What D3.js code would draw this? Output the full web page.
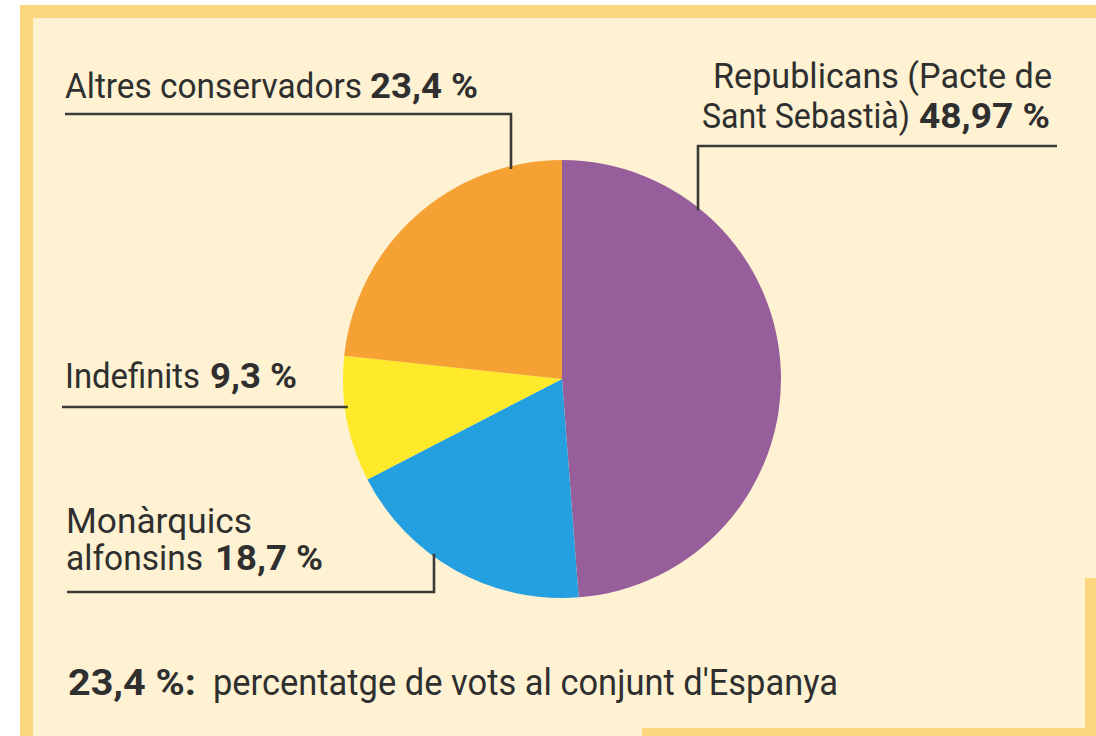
<!DOCTYPE html>
<html>
<head>
<meta charset="utf-8">
<script src="https://cdn.jsdelivr.net/npm/d3@7"></script>
<style>
  html, body { margin: 0; padding: 0; background: #fff; }
  svg { display: block; }
  text { font-family: Roboto, "Open Sans", sans-serif; fill: #2f2f2f; }
</style>
</head>
<body>
<div id="chart"></div>
<script>
// data
var parties = ["Republicans (Pacte de Sant Sebastià)", "Monàrquics alfonsins", "Indefinits", "Altres conservadors"];
var shares = [48.97, 18.7, 9.3, 23.4];
var colors = ["#965f9b", "#249fe0", "#fee92a", "#f5a134"];
var footnoteValue = 23.4;
var footnoteText = "percentatge de vots al conjunt d'Espanya";

var W = 1096, H = 736;
var cx = 562, cy = 379, R = 219;

var loc = d3.formatLocale({decimal: ",", thousands: ".", grouping: [3], currency: ["", ""]});
function pct(v) {
    var s = String(v).replace(".", ",");
    return s + " %";
}

var svg = d3.select("#chart").append("svg")
    .attr("width", W)
    .attr("height", H);

// frame
svg.append("rect").attr("x", 20).attr("y", 5).attr("width", W - 20).attr("height", H - 5).attr("fill", "#fdd77f");
svg.append("rect").attr("x", 33).attr("y", 18).attr("width", W - 33).attr("height", H - 18).attr("fill", "#fef2d3");
// bottom right corner stripes
svg.append("rect").attr("x", 1085).attr("y", 578).attr("width", 11).attr("height", H - 578).attr("fill", "#fdd77f");
svg.append("rect").attr("x", 642).attr("y", 728).attr("width", W - 642).attr("height", 8).attr("fill", "#fdd77f");

// pie
var pie = d3.pie().sort(null).value(function(d) { return d; });
var arc = d3.arc().innerRadius(0).outerRadius(R);
var g = svg.append("g").attr("transform", "translate(" + cx + "," + cy + ")");
g.selectAll("path")
    .data(pie(shares))
    .enter().append("path")
    .attr("d", arc)
    .attr("fill", function(d, i) { return colors[i]; });

// leader lines: edge point on the circle for a given x
function edgeY(x, top) {
    var dx = x - cx;
    var dy = Math.sqrt(R * R - dx * dx);
    return top ? cy - dy + 3 : cy + dy - 3;
}
function edgeX(y) {
    var dy = y - cy;
    return cx - Math.sqrt(R * R - dy * dy) + 3;
}
var line = d3.line();
var leaders = [
    [[65, 114], [511, 114], [511, edgeY(511, true)]],
    [[1057, 146], [698, 146], [698, edgeY(698, true)]],
    [[62, 407], [edgeX(407), 407]],
    [[67, 592], [434, 592], [434, edgeY(434, false)]]
];
svg.selectAll(".leader")
    .data(leaders)
    .enter().append("path")
    .attr("class", "leader")
    .attr("d", line)
    .attr("fill", "none")
    .attr("stroke", "#3a3a36")
    .attr("stroke-width", 2.6);

// labels: [text, x, baseline, width, bold]
function piece(t, x, y, w, bold, size) {
    svg.append("text")
        .attr("x", x)
        .attr("y", y)
        .attr("textLength", w)
        .attr("lengthAdjust", "spacingAndGlyphs")
        .style("font-size", (size || 35) + "px")
        .style("font-weight", bold ? 700 : 400)
        .text(t);
}

piece(parties[3], 65, 98, 297, false);
piece(pct(shares[3]), 370, 98, 108, true);

piece("Republicans (Pacte de", 713, 88, 339, false);
piece("Sant Sebastià)", 702, 128, 208, false);
piece(pct(shares[0]), 919, 128, 131, true);

piece(parties[2], 65, 388, 135, false);
piece(pct(shares[2]), 210, 388, 87, true);

piece("Monàrquics", 66, 533, 186, false);
piece("alfonsins", 66, 570, 137, false);
piece(pct(shares[1]), 215, 570, 108, true);

// footnote
piece(pct(footnoteValue) + ":", 68, 695, 128, true, 36);
piece(footnoteText, 213, 695, 625, false, 36);
</script>
</body>
</html>
